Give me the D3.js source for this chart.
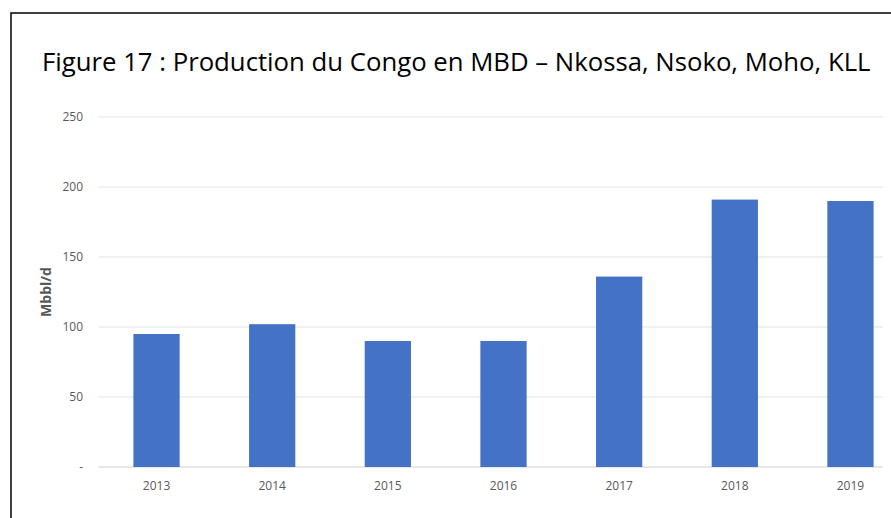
<!DOCTYPE html>
<html lang="fr">
<head>
<meta charset="utf-8">
<title>Production du Congo</title>
<script src="https://cdn.jsdelivr.net/npm/d3@7"></script>
<style>
  body { margin: 0; background: #fff; }
  text { font-family: "Open Sans", "Noto Sans", sans-serif; }
</style>
</head>
<body>
<script>
var years = ["2013", "2014", "2015", "2016", "2017", "2018", "2019"];
var production = [95, 102, 90, 90, 136, 191, 190];
var yTicks = [0, 50, 100, 150, 200, 250];

var w = 891, h = 518;
var plotLeft = 99, gridRight = 883, plotTop = 117, plotBottom = 467;

var svg = d3.select("body").append("svg")
    .attr("width", w)
    .attr("height", h);

// frame of the figure (only top and left visible)
svg.append("rect")
    .attr("x", 11).attr("y", 13)
    .attr("width", 1000).attr("height", 1000)
    .attr("fill", "none")
    .attr("stroke", "#000")
    .attr("stroke-width", 1.5);

var x = d3.scaleBand()
    .domain(years)
    .range([98.7, 908.3])
    .paddingInner(0.6)
    .paddingOuter(0.3);

var y = d3.scaleLinear()
    .domain([0, 250])
    .range([plotBottom, plotTop]);

// gridlines
svg.append("g")
  .selectAll("line")
  .data(yTicks)
  .enter().append("line")
    .attr("x1", plotLeft)
    .attr("x2", gridRight)
    .attr("y1", function(d) { return y(d); })
    .attr("y2", function(d) { return y(d); })
    .attr("stroke", function(d) { return d == 0 ? "#d0d0d0" : "#e3e3e3"; })
    .attr("stroke-width", 1);

// y tick labels
svg.append("g")
  .selectAll("text")
  .data(yTicks)
  .enter().append("text")
    .attr("x", 83)
    .attr("y", function(d) { return y(d); })
    .attr("dy", "0.35em")
    .attr("text-anchor", "end")
    .attr("font-size", 12)
    .attr("fill", "#595959")
    .text(function(d) { return d == 0 ? "-" : d; });

// bars
svg.append("g")
  .selectAll("rect")
  .data(production)
  .enter().append("rect")
    .attr("x", function(d, i) { return x(years[i]); })
    .attr("y", function(d) { return y(d); })
    .attr("width", x.bandwidth())
    .attr("height", function(d) { return y(0) - y(d); })
    .attr("fill", "#4472C4");

// x labels
svg.append("g")
  .selectAll("text")
  .data(years)
  .enter().append("text")
    .attr("x", function(d) { return x(d) + x.bandwidth() / 2; })
    .attr("y", y(0) + 23)
    .attr("text-anchor", "middle")
    .attr("font-size", 12)
    .attr("fill", "#595959")
    .text(function(d) { return d; });

// y axis title
svg.append("text")
    .attr("transform", "translate(51," + y(125) + ") rotate(-90)")
    .attr("text-anchor", "middle")
    .attr("font-size", 14)
    .attr("font-weight", "bold")
    .attr("fill", "#595959")
    .text("Mbbl/d");

// title, fitted to the width seen in the reference
var title = svg.append("text")
    .attr("x", 42)
    .attr("y", 71)
    .attr("font-size", 26)
    .attr("fill", "#000")
    .text("Figure 17 : Production du Congo en MBD \u2013 Nkossa, Nsoko, Moho, KLL");
var tw = title.node().getComputedTextLength();
title.attr("font-size", 26 * 829 / tw);
</script>
</body>
</html>
